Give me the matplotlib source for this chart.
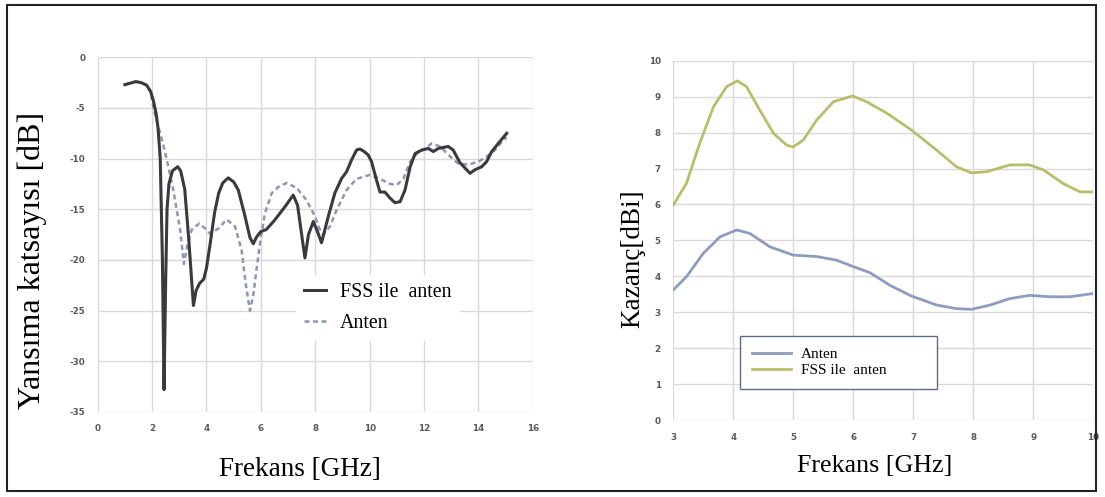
import matplotlib.pyplot as plt
from matplotlib.patches import Rectangle

# left panel: reflection coefficient
s11_freq_fss = [1.0, 1.2, 1.4, 1.6, 1.8, 1.95, 2.05, 2.15, 2.22, 2.3, 2.38, 2.44, 2.5, 2.55,
                2.62, 2.75, 2.94, 3.05, 3.2, 3.35, 3.52, 3.62, 3.75, 3.9, 4.0, 4.13, 4.3,
                4.45, 4.6, 4.8, 5.0, 5.17, 5.4, 5.6, 5.72, 5.85, 6.0, 6.2, 6.5, 6.9, 7.19,
                7.35, 7.5, 7.62, 7.75, 7.93, 8.08, 8.23, 8.48, 8.72, 8.97, 9.15, 9.34, 9.52,
                9.64, 9.8, 9.95, 10.07, 10.25, 10.38, 10.56, 10.75, 10.93, 11.12, 11.3,
                11.49, 11.67, 11.92, 12.16, 12.34, 12.52, 12.89, 13.07, 13.32, 13.69, 13.87,
                14.12, 14.3, 14.49, 14.73, 15.04]
s11_fss = [-2.7, -2.55, -2.4, -2.5, -2.75, -3.4, -4.3, -5.6, -7.0, -10.0, -20.0, -32.8, -22.0,
           -15.0, -12.5, -11.2, -10.8, -11.2, -13.0, -18.0, -24.5, -23.0, -22.3, -21.9, -20.8,
           -18.5, -15.3, -13.4, -12.4, -11.9, -12.3, -13.1, -15.5, -17.8, -18.4, -17.7, -17.2,
           -17.0, -16.1, -14.7, -13.6, -14.6, -17.5, -19.8, -17.5, -16.2, -17.2, -18.3, -15.7,
           -13.4, -11.95, -11.3, -10.1, -9.15, -9.05, -9.3, -9.65, -10.3, -12.1, -13.3, -13.3,
           -13.9, -14.35, -14.25, -13.1, -10.8, -9.5, -9.15, -9.0, -9.3, -9.0, -8.8, -9.15,
           -10.4, -11.45, -11.1, -10.8, -10.3, -9.3, -8.5, -7.5]

s11_freq_ant = [1.0, 1.2, 1.4, 1.6, 1.8, 1.95, 2.05, 2.23, 2.4, 2.54, 2.78, 3.03, 3.17, 3.3,
                3.46, 3.74, 3.95, 4.13, 4.44, 4.74, 5.05, 5.29, 5.45, 5.6, 5.72, 5.85, 6.0,
                6.15, 6.4, 6.64, 6.95, 7.32, 7.68, 7.99, 8.15, 8.29, 8.54, 8.78, 9.15, 9.52,
                10.01, 10.38, 10.75, 11.0, 11.24, 11.49, 11.74, 12.04, 12.28, 12.59, 12.96,
                13.26, 13.63, 14.0, 14.3, 14.61, 14.92, 15.04]
s11_ant = [-2.7, -2.55, -2.4, -2.5, -2.75, -3.4, -5.0, -6.85, -8.5, -10.1, -13.1, -17.0, -20.4,
           -18.5, -17.0, -16.4, -16.9, -17.4, -16.9, -16.0, -16.7, -19.0, -22.5, -25.0, -23.5,
           -20.7, -17.8, -15.4, -13.4, -12.8, -12.4, -12.9, -14.1, -15.7, -16.9, -17.5, -16.7,
           -15.1, -13.1, -12.0, -11.6, -12.0, -12.5, -12.6, -12.0, -10.3, -9.5, -9.0, -8.5,
           -8.8, -9.8, -10.5, -10.6, -10.3, -9.8, -9.15, -8.15, -7.9]

# right panel: gain
gain_freq_fss = [3.0, 3.22, 3.44, 3.67, 3.89, 4.07, 4.22, 4.44, 4.67, 4.89, 5.0, 5.17, 5.39,
                 5.67, 5.99, 6.22, 6.56, 6.97, 7.39, 7.72, 7.97, 8.22, 8.61, 8.94, 9.17, 9.5,
                 9.78, 10.0]
gain_fss = [5.98, 6.59, 7.7, 8.72, 9.28, 9.44, 9.28, 8.63, 7.98, 7.65, 7.6, 7.8, 8.35, 8.86,
            9.02, 8.86, 8.54, 8.07, 7.51, 7.05, 6.88, 6.91, 7.1, 7.1, 6.96, 6.58, 6.35, 6.35]

gain_freq_ant = [3.0, 3.22, 3.5, 3.78, 4.06, 4.28, 4.61, 5.0, 5.39, 5.72, 6.0, 6.28, 6.61,
                 6.97, 7.39, 7.72, 7.97, 8.28, 8.61, 8.94, 9.28, 9.61, 10.0]
gain_ant = [3.62, 3.99, 4.64, 5.1, 5.29, 5.19, 4.82, 4.59, 4.55, 4.45, 4.27, 4.1, 3.75, 3.45,
            3.2, 3.1, 3.08, 3.2, 3.38, 3.47, 3.43, 3.43, 3.52]

serif = 'Liberation Serif'
tick_kw = dict(fontsize=6.3, fontweight='bold', color='#595959', family='DejaVu Sans')

fig = plt.figure(figsize=(11.05, 4.97), dpi=100)

# outer frame
fig.patches.append(Rectangle((7 / 1105, 1 - 491 / 497), 1089 / 1105, 486 / 497,
                             transform=fig.transFigure, fill=False, ec='#222222', lw=1.5))

ax1 = fig.add_axes([0.0884, 0.1712, 0.3938, 0.7135])
ax1.plot(s11_freq_fss, s11_fss, color='#3a3a3a', lw=2.2, label='FSS ile  anten', zorder=3)
ax1.plot(s11_freq_ant, s11_ant, color='#8c97b8', lw=1.8, ls=(0, (2.0, 1.4)), label='Anten', zorder=2)
ax1.set_xlim(0, 16)
ax1.set_ylim(-35, 0)
ax1.set_xticks(range(0, 17, 2))
ax1.set_yticks(range(-35, 1, 5))
ax1.set_xticklabels([str(v) for v in range(0, 17, 2)], **tick_kw)
ax1.set_yticklabels([str(v) for v in range(-35, 1, 5)], **tick_kw)
ax1.grid(True, color='#d9d9d9', lw=1)
ax1.tick_params(length=0, pad=9)
for s in ax1.spines.values():
    s.set_visible(False)
ax1.set_xlabel('Frekans [GHz]', family=serif, fontsize=19.5)
ax1.xaxis.set_label_coords(0.465, -0.128)
ax1.set_ylabel('Yansıma katsayısı [dB]', family=serif, fontsize=23)
ax1.yaxis.set_label_coords(-0.116, 0.426)
leg1 = ax1.legend(loc='upper left', bbox_to_anchor=(0.456, 0.385), frameon=True,
                  prop={'family': serif, 'size': 14.4}, handlelength=1.1, handletextpad=0.7,
                  labelspacing=0.6, borderpad=0.4, borderaxespad=0)
leg1.get_frame().set_edgecolor('none')
leg1.get_frame().set_facecolor('white')
leg1.get_frame().set_alpha(1)

ax2 = fig.add_axes([0.6093, 0.1549, 0.3801, 0.7229])
ax2.plot(gain_freq_ant, gain_ant, color='#8e9cc0', lw=2, label='Anten')
ax2.plot(gain_freq_fss, gain_fss, color='#b7bf6c', lw=2, label='FSS ile  anten')
ax2.set_xlim(3, 10)
ax2.set_ylim(0, 10)
ax2.set_xticks(range(3, 11))
ax2.set_yticks(range(0, 11))
ax2.set_xticklabels([str(v) for v in range(3, 11)], **tick_kw)
ax2.set_yticklabels([str(v) for v in range(0, 11)], **tick_kw)
ax2.grid(True, color='#d9d9d9', lw=1)
ax2.tick_params(length=0, pad=9)
for s in ax2.spines.values():
    s.set_visible(False)
ax2.set_xlabel('Frekans [GHz]', family=serif, fontsize=18.7)
ax2.xaxis.set_label_coords(0.48, -0.097)
ax2.set_ylabel('Kazanç[dBi]', family=serif, fontsize=19.5)
ax2.yaxis.set_label_coords(-0.067, 0.448)
leg2 = ax2.legend(loc='upper left', bbox_to_anchor=(0.159, 0.05, 0.469, 0.184), mode='expand',
                  frameon=True, fancybox=False, prop={'family': serif, 'size': 11},
                  handlelength=2.6, handletextpad=0.65, labelspacing=0.15, borderpad=0.75,
                  borderaxespad=0)
leg2.get_frame().set_edgecolor('#5d6b88')
leg2.get_frame().set_linewidth(1)
leg2.get_frame().set_alpha(1)

fig.savefig('out.png', dpi=100)
